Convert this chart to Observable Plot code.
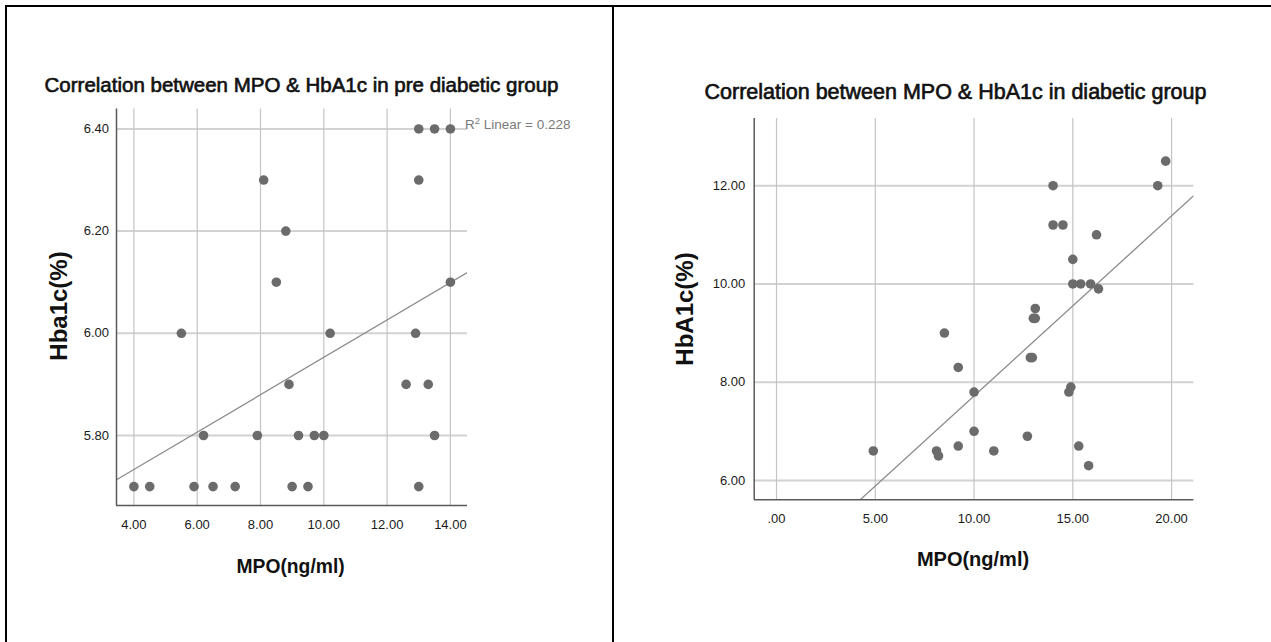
<!DOCTYPE html>
<html>
<head>
<meta charset="utf-8">
<script src="https://cdn.jsdelivr.net/npm/d3@7"></script>
<script src="https://cdn.jsdelivr.net/npm/@observablehq/plot@0.6"></script>
<style>
  html, body { margin: 0; padding: 0; background: #fff; }
  body { font-family: "Liberation Sans", Arial, sans-serif; color: #000; }
  #page { position: relative; width: 1271px; height: 642px; overflow: hidden; background: #fff; }
  .bl { position: absolute; background: #000; }
  .title { position: absolute; font-weight: normal; white-space: nowrap; line-height: 20px; transform: translateX(-50%); color: #111; -webkit-text-stroke: 0.65px #111; }
  .xlab { position: absolute; font-weight: bold; white-space: nowrap; line-height: 20px; transform: translate(-50%, -50%); color: #111; }
  .ylab { position: absolute; font-weight: bold; white-space: nowrap; line-height: 24px; transform: translate(-50%, -50%) rotate(-90deg); color: #111; }
  .chart { position: absolute; }
  .chart svg text { font-size: 13px !important; font-family: "Liberation Sans", Arial, sans-serif !important; fill: #1a1a1a; }
  .r2 { position: absolute; font-size: 13.5px; color: #7a7a7a; white-space: nowrap; line-height: 14px; }
  .r2 sup { font-size: 9.5px; vertical-align: 5px; line-height: 0; }
</style>
</head>
<body>
<div id="page">
  <div class="bl" style="left:5px; top:5px; width:1266px; height:2px;"></div>
  <div class="bl" style="left:5px; top:5px; width:2px; height:637px;"></div>
  <div class="bl" style="left:612px; top:5px; width:2px; height:637px;"></div>

  <div class="title" style="left:301.5px; top:75px; font-size:20.5px;">Correlation between MPO &amp; HbA1c in pre diabetic group</div>
  <div class="title" style="left:955.5px; top:82px; font-size:21.5px;">Correlation between MPO &amp; HbA1c in diabetic group</div>

  <div id="c1" class="chart" style="left:0px; top:60px;"></div>
  <div id="c2" class="chart" style="left:613px; top:60px;"></div>

  <div class="r2" style="left:465px; top:118px;">R<sup>2</sup> Linear = 0.228</div>

  <div class="ylab" style="left:59px; top:306px; font-size:24px;">Hba1c(%)</div>
  <div class="ylab" style="left:685px; top:309px; font-size:24px;">HbA1c(%)</div>
  <div class="xlab" style="left:290.6px; top:567px; font-size:19.3px;">MPO(ng/ml)</div>
  <div class="xlab" style="left:973px; top:559px; font-size:20px;">MPO(ng/ml)</div>
</div>
<script>
// ---- Data: pre diabetic group ----
const preMPO   = [4.0, 4.5, 5.9, 6.5, 7.2, 9.0, 9.5, 13.0,
                  6.2, 7.9, 9.2, 9.7, 10.0, 13.5,
                  8.9, 12.6, 13.3,
                  5.5, 10.2, 12.9,
                  8.5, 14.0,
                  8.8,
                  8.1, 13.0,
                  13.0, 13.5, 14.0];
const preHbA1c = [5.7, 5.7, 5.7, 5.7, 5.7, 5.7, 5.7, 5.7,
                  5.8, 5.8, 5.8, 5.8, 5.8, 5.8,
                  5.9, 5.9, 5.9,
                  6.0, 6.0, 6.0,
                  6.1, 6.1,
                  6.2,
                  6.3, 6.3,
                  6.4, 6.4, 6.4];
// fitted line: [intercept, slope]
const preFit = [5.587, 0.0366];

// ---- Data: diabetic group ----
const diaMPO   = [19.7, 19.3, 14.0, 14.0, 14.5, 16.2, 15.0, 15.0, 15.4, 15.9,
                  16.3, 13.1, 13.0, 13.1, 8.5, 12.85, 12.95, 9.2, 10.0, 14.9,
                  14.8, 10.0, 12.7, 9.2, 15.3, 4.9, 8.1, 8.2, 11.0, 15.8];
const diaHbA1c = [12.5, 12.0, 12.0, 11.2, 11.2, 11.0, 10.5, 10.0, 10.0, 10.0,
                  9.9, 9.5, 9.3, 9.3, 9.0, 8.5, 8.5, 8.3, 7.8, 7.9,
                  7.8, 7.0, 6.9, 6.7, 6.7, 6.6, 6.6, 6.5, 6.6, 6.3];
const diaFit = [4.054, 0.3666];

// ---- Tick values ----
const preXTicks = [4, 6, 8, 10, 12, 14];
const preYTicks = [5.8, 6.0, 6.2, 6.4];
const diaXTicks = [0, 5, 10, 15, 20];
const diaYTicks = [6, 8, 10, 12];

const fmt2 = d3.format(".2f");
const fmtDot = d => fmt2(d).replace(/^0\./, ".");

function chart(o) {
  const data = o.xs.map((x, i) => ({ x, y: o.ys[i] }));
  const [a, b] = o.fit;
  const line = o.xDomain.map(x => ({ x, y: a + b * x }));
  return Plot.plot({
    width: o.width, height: o.height,
    marginLeft: o.ml, marginRight: o.mr, marginTop: o.mt, marginBottom: o.mb,
    style: { fontFamily: "'Liberation Sans', Arial, sans-serif", fontSize: "13px", color: "#1a1a1a", background: "transparent", overflow: "visible" },
    x: { domain: o.xDomain },
    y: { domain: o.yDomain },
    marks: [
      Plot.gridY(o.yTicks, { stroke: "#d2d2d2", strokeOpacity: 1, strokeWidth: 2 }),
      Plot.gridX(o.xTicks, { stroke: "#c4c4c4", strokeOpacity: 1, strokeWidth: 1.2 }),
      Plot.axisX(o.xTicks, { tickSize: 0, tickPadding: 14, label: null, tickFormat: o.fmtX, fill: "#1a1a1a", fontSize: 13 }),
      Plot.axisY(o.yTicks, { tickSize: 0, tickPadding: o.ypad, label: null, tickFormat: fmt2, fill: "#1a1a1a", fontSize: 13 }),
      Plot.line(line, { x: "x", y: "y", stroke: "#8c8c8c", strokeWidth: 1.3, clip: true }),
      Plot.dot(data, { x: "x", y: "y", r: 4.8, fill: "#6b6b6b", stroke: "none" }),
      Plot.ruleX([o.xDomain[0]], { stroke: "#5a5a5a", strokeWidth: 1.5 }),
      Plot.ruleY([o.yDomain[0]], { stroke: "#5a5a5a", strokeWidth: 1.5 })
    ]
  });
}

document.getElementById("c1").appendChild(chart({
  xs: preMPO, ys: preHbA1c, fit: preFit,
  xDomain: [3.45, 14.54], yDomain: [5.663, 6.439],
  xTicks: preXTicks, yTicks: preYTicks, fmtX: fmt2,
  width: 613, height: 500, ml: 116, mr: 146, mt: 48.5, mb: 55, ypad: 7.5
}));

document.getElementById("c2").appendChild(chart({
  xs: diaMPO, ys: diaHbA1c, fit: diaFit,
  xDomain: [-1.13, 21.13], yDomain: [5.608, 13.37],
  xTicks: diaXTicks, yTicks: diaYTicks, fmtX: fmtDot,
  width: 658, height: 500, ml: 140.7, mr: 77.6, mt: 57.9, mb: 60.8, ypad: 9
}));
</script>
</body>
</html>
